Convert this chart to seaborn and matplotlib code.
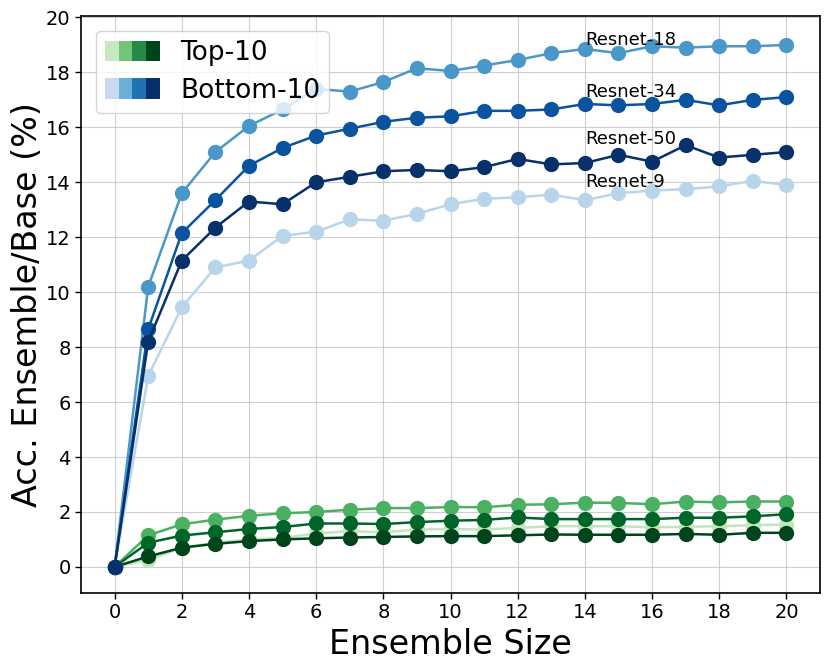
import numpy as np
import pandas as pd
import matplotlib
matplotlib.use("Agg")
import matplotlib.pyplot as plt
import seaborn as sns
from matplotlib.patches import Patch
from matplotlib.legend_handler import HandlerTuple

sizes = list(range(21))

# Bottom-10 (blue)
resnet9_b = [0, 6.95, 9.45, 10.9, 11.15, 12.05, 12.2, 12.65, 12.6, 12.85, 13.2, 13.4, 13.45, 13.55, 13.35, 13.6, 13.7, 13.75, 13.85, 14.05, 13.9]
resnet18_b = [0, 10.2, 13.6, 15.1, 16.05, 16.65, 17.4, 17.3, 17.65, 18.15, 18.05, 18.25, 18.45, 18.7, 18.85, 18.7, 18.95, 18.9, 18.95, 18.95, 19.0]
resnet34_b = [0, 8.65, 12.15, 13.35, 14.6, 15.25, 15.7, 15.95, 16.2, 16.35, 16.4, 16.6, 16.6, 16.65, 16.85, 16.8, 16.85, 17.0, 16.8, 17.0, 17.1]
resnet50_b = [0, 8.2, 11.15, 12.35, 13.3, 13.2, 14.0, 14.2, 14.4, 14.45, 14.4, 14.55, 14.85, 14.65, 14.7, 15.0, 14.75, 15.35, 14.9, 15.0, 15.1]

# Top-10 (green)
resnet9_t = [0, 0.25, 0.7, 0.88, 1.0, 1.05, 1.22, 1.3, 1.26, 1.36, 1.38, 1.36, 1.42, 1.48, 1.48, 1.48, 1.44, 1.46, 1.48, 1.52, 1.54]
resnet18_t = [0, 1.15, 1.55, 1.72, 1.86, 1.95, 2.0, 2.08, 2.14, 2.14, 2.18, 2.17, 2.26, 2.28, 2.34, 2.33, 2.28, 2.38, 2.35, 2.38, 2.38]
resnet34_t = [0, 0.88, 1.14, 1.26, 1.38, 1.45, 1.58, 1.58, 1.56, 1.63, 1.68, 1.71, 1.8, 1.74, 1.74, 1.74, 1.74, 1.79, 1.79, 1.84, 1.92]
resnet50_t = [0, 0.38, 0.7, 0.84, 0.94, 1.0, 1.04, 1.07, 1.09, 1.11, 1.12, 1.12, 1.15, 1.18, 1.17, 1.17, 1.17, 1.2, 1.17, 1.24, 1.24]

models = ["Resnet-9", "Resnet-18", "Resnet-34", "Resnet-50"]
top_series = [resnet9_t, resnet18_t, resnet34_t, resnet50_t]
bottom_series = [resnet9_b, resnet18_b, resnet34_b, resnet50_b]

green_cols = ["#c2e6bb", "#4bb062", "#006529", "#00441b"]
blue_cols = ["#b9d5ea", "#4a98c9", "#0a539e", "#08306b"]
legend_greens = ["#c7e9c0", "#74c476", "#238b45", "#00441b"]
legend_blues = ["#c6dbef", "#6baed6", "#2171b5", "#08306b"]

label_pos = {"Resnet-18": 18.85, "Resnet-34": 16.95, "Resnet-50": 15.25, "Resnet-9": 13.7}

sns.set_style("white")
plt.rcParams['font.family'] = ['DejaVu Sans']
for k in ["text.color", "axes.labelcolor", "xtick.color", "ytick.color", "axes.edgecolor"]:
    plt.rcParams[k] = "black"

fig, ax = plt.subplots(figsize=(8.30, 6.69), dpi=100)
fig.subplots_adjust(left=0.0976, right=0.988, top=0.976, bottom=0.1136)

def draw(series, cols):
    for m, vals, c in zip(models, series, cols):
        df = pd.DataFrame({"size": sizes, "acc": vals})
        sns.lineplot(data=df, x="size", y="acc", ax=ax, color=c, marker="o",
                     markersize=11, markeredgewidth=0, linewidth=1.8, legend=False)

draw(top_series, green_cols)
draw(bottom_series, blue_cols)

for m in models:
    ax.text(14, label_pos[m], m, fontsize=13, ha="left", va="bottom", color="black")

ax.set_xlim(-1, 21)
ax.set_ylim(-0.95, 20.05)
ax.set_xticks(range(0, 21, 2))
ax.set_yticks(range(0, 21, 2))
ax.tick_params(axis="both", labelsize=14, direction="out", length=4, width=1,
               left=True, bottom=True, colors="black")
ax.grid(True, color="#b0b0b0", alpha=0.6, linewidth=0.8)
ax.set_axisbelow(True)
for s in ax.spines.values():
    s.set_color("black")
    s.set_linewidth(1.2)
ax.set_xlabel("Ensemble Size", fontsize=24, color="black")
ax.set_ylabel("Acc. Ensemble/Base (%)", fontsize=24, color="black", labelpad=1)

top_handle = tuple(Patch(facecolor=c, edgecolor="none") for c in legend_greens)
bot_handle = tuple(Patch(facecolor=c, edgecolor="none") for c in legend_blues)
leg = ax.legend([top_handle, bot_handle], ["Top-10", "Bottom-10"],
          handler_map={tuple: HandlerTuple(ndivide=None, pad=0)},
          loc="upper left", fontsize=19, handlelength=2.1, handleheight=0.8,
          handletextpad=0.75, framealpha=0.8, borderpad=0.35, labelspacing=0.45,
          borderaxespad=0.55)
for t in leg.get_texts():
    t.set_color("black")

fig.savefig("out.png", dpi=100)
